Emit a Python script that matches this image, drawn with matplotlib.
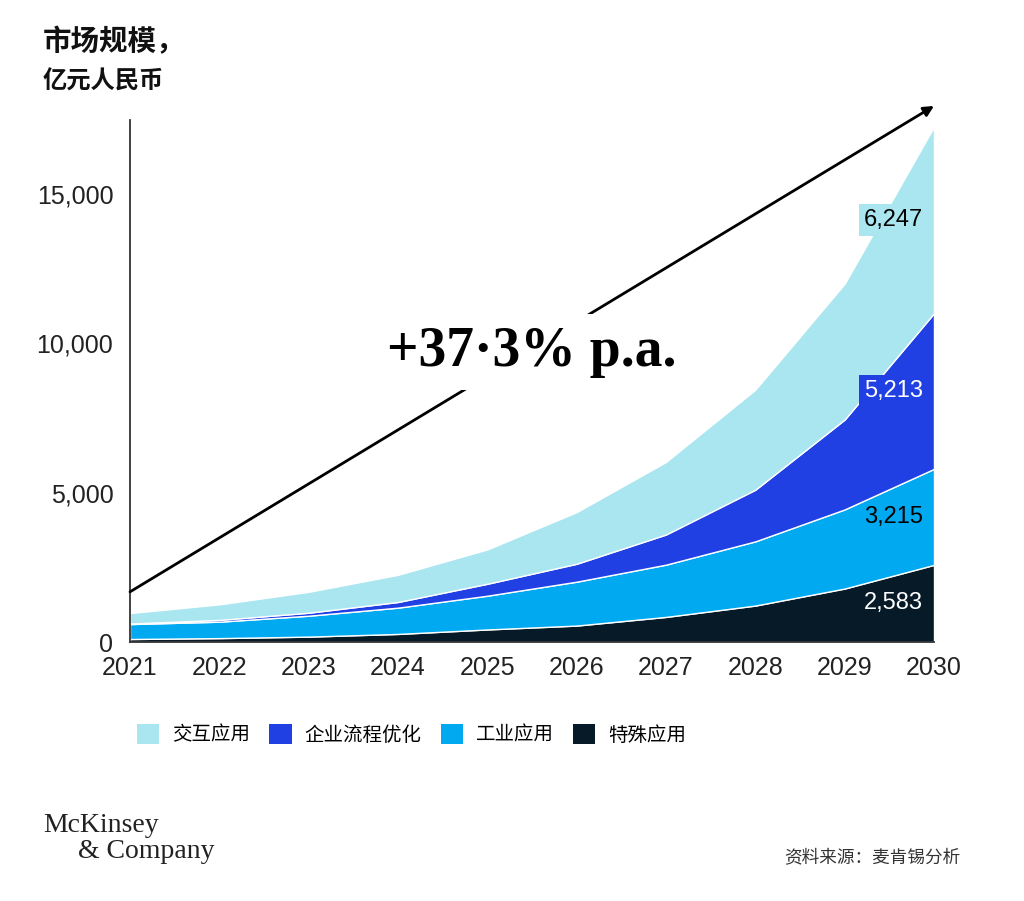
import matplotlib
matplotlib.use("Agg")
import matplotlib.pyplot as plt
from matplotlib.patches import Patch

plt.rcParams['font.family'] = ['Liberation Sans', 'Noto Sans CJK SC', 'DejaVu Sans']

years = [2021, 2022, 2023, 2024, 2025, 2026, 2027, 2028, 2029, 2030]
series_names = ["交互应用", "企业流程优化", "工业应用", "特殊应用"]
special = [100, 130, 180, 270, 420, 550, 840, 1220, 1790, 2583]
industrial = [500, 550, 700, 880, 1130, 1470, 1750, 2150, 2650, 3215]
enterprise = [20, 60, 100, 190, 400, 600, 1010, 1730, 3010, 5213]
interactive = [350, 520, 700, 910, 1150, 1730, 2430, 3350, 4550, 6247]
yticks = [0, 5000, 10000, 15000]
ytick_labels = ["0", "5,000", "10,000", "15,000"]
cagr_label = "+37·3% p.a."
title = "市场规模，"
subtitle = "亿元人民币"
source = "资料来源：麦肯锡分析"

c_inter = '#aae6f0'
c_ent = '#2140e3'
c_ind = '#00a9f0'
c_spec = '#061a28'

W, H = 1024, 901
fig = plt.figure(figsize=(W / 100, H / 100), dpi=100)
ax = fig.add_axes([130 / W, 1 - 642 / H, (934 - 130) / W, 522 / H])

ax.stackplot(years, special, industrial, enterprise, interactive,
             colors=[c_spec, c_ind, c_ent, c_inter],
             edgecolor='white', linewidth=1.0)

ax.set_xlim(2021, 2030)
ax.set_ylim(0, 17480)
ax.set_xticks(years)
ax.set_xticklabels([str(y) for y in years], fontsize=18, color='#222222')
ax.set_yticks(yticks)
ax.set_yticklabels(ytick_labels, fontsize=18, color='#222222')
ax.tick_params(axis='y', length=0, pad=12)
ax.tick_params(axis='x', length=0, pad=10)
for s in ['top', 'right']:
    ax.spines[s].set_visible(False)
for s in ['left', 'bottom']:
    ax.spines[s].set_color('#333333')
    ax.spines[s].set_linewidth(1.3)

# end labels at 2030
cum = 0
layers = [(special, 'white', None), (industrial, 'black', None),
          (enterprise, 'white', c_ent), (interactive, 'black', c_inter)]
for vals, tcol, bcol in layers:
    v = vals[-1]
    mid = cum + v / 2
    cum += v
    kw = {}
    if bcol is not None:
        kw['bbox'] = dict(boxstyle='square,pad=0.2', fc=bcol, ec='none')
    ax.annotate(f"{v:,}", xy=(2030, mid), xytext=(-8, 0), textcoords='offset points',
                ha='right', va='center', fontsize=17, color=tcol, **kw)

# CAGR arrow
ax.annotate("", xy=(2030, 17950), xytext=(2021, 1680),
            xycoords='data', annotation_clip=False,
            arrowprops=dict(arrowstyle='-|>,head_length=0.6,head_width=0.3',
                            color='black', lw=2.0, shrinkA=0, shrinkB=0),
            zorder=5)
fig.text(532 / W, 1 - 352 / H, cagr_label, fontsize=40, fontweight='bold',
         family=['Liberation Serif'], ha='center', va='center', zorder=10,
         bbox=dict(boxstyle='square,pad=0.22', fc='white', ec='none'))

# titles
fig.text(43 / W, 1 - 42 / H, title, fontsize=20.5, fontweight='bold',
         family=['Noto Sans CJK SC'], ha='left', va='center', color='#111111')
fig.text(43 / W, 1 - 82 / H, subtitle, fontsize=17.5, fontweight='bold',
         family=['Noto Sans CJK SC'], ha='left', va='center', color='#111111')

# legend
handles = [Patch(fc=c_inter, ec='none'), Patch(fc=c_ent, ec='none'),
           Patch(fc=c_ind, ec='none'), Patch(fc=c_spec, ec='none')]
fig.legend(handles, series_names, loc='center left',
           bbox_to_anchor=(129 / W, 1 - 735 / H), ncol=4, frameon=False,
           prop={'family': 'Noto Sans CJK SC', 'size': 14},
           handlelength=1.15, handleheight=1.15, handletextpad=0.65,
           columnspacing=1.0, borderaxespad=0)

# logo and source
fig.text(43 / W, 1 - 826 / H, "McKinsey", fontsize=20, family=['Liberation Serif'],
         ha='left', va='center', color='#222222')
fig.text(78 / W, 1 - 852 / H, "& Company", fontsize=20, family=['Liberation Serif'],
         ha='left', va='center', color='#222222')
fig.text(960 / W, 1 - 857 / H, source, fontsize=12.7, family=['Noto Sans CJK SC'],
         ha='right', va='center', color='#333333')

fig.savefig("out.png", dpi=100, facecolor='white')
